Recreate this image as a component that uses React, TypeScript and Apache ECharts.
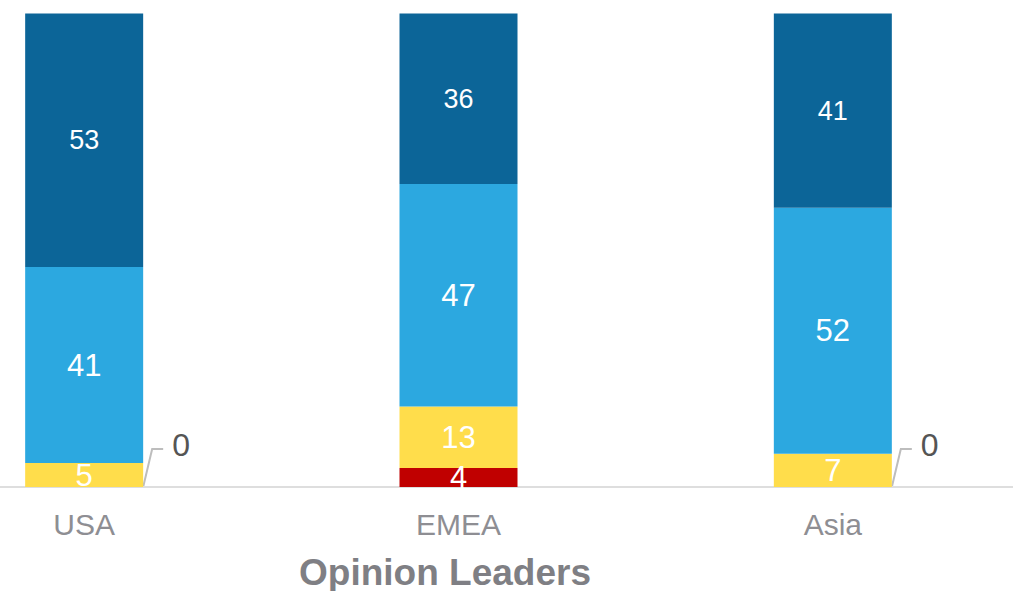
import React, { useEffect, useRef } from "react";
import * as echarts from "echarts";

const categories = ["USA", "EMEA", "Asia"];
const seriesNames = ["Negative", "Neutral", "Positive", "Very positive"];
const redValues = [0, 4, 0];
const yellowValues = [5, 13, 7];
const lightBlueValues = [41, 47, 52];
const darkBlueValues = [53, 36, 41];
const colors = ["#c00000", "#ffdd4b", "#2ca8e0", "#0c6598"];
const labelSizes = [31, 31, 31, 27];
const axisTitle = "Opinion Leaders";

const FONT = "'Liberation Sans', Arial, Helvetica, sans-serif";
const SHIFT = 103;
const BAR_WIDTH = 118;

export default function App() {
  const ref = useRef<HTMLDivElement>(null);
  useEffect(() => {
    if (!ref.current) return;
    document.body.style.overflow = "hidden";
    const chart = echarts.init(ref.current, undefined, { renderer: "svg" });
    const all = [redValues, yellowValues, lightBlueValues, darkBlueValues];
    const totals = categories.map((_, i) => all.reduce((s, arr) => s + arr[i], 0));

    const series = all.map((arr, si) => ({
      name: seriesNames[si],
      type: "bar",
      stack: "total",
      barWidth: BAR_WIDTH,
      itemStyle: { color: colors[si] },
      label: {
        show: true,
        position: "inside",
        color: "#fff",
        fontSize: labelSizes[si],
        fontFamily: FONT,
        formatter: (p: any) => String(arr[p.dataIndex]),
      },
      labelLayout:
        si === 0
          ? (p: any) => {
              if (arr[p.dataIndex] !== 0) return {};
              return {
                x: p.rect.x + p.rect.width + 29,
                y: p.rect.y - 42,
                align: "left",
                verticalAlign: "middle",
                fontSize: 32,
              };
            }
          : undefined,
      data: arr.map((v, i) => {
        const val = (v / totals[i]) * 100;
        if (si === 0 && v === 0) {
          return { value: val, label: { color: "#555", fontSize: 32 } };
        }
        return val;
      }),
    }));

    chart.setOption({
      animation: false,
      grid: { left: 0, right: 0, top: 13.5, bottom: 104 },
      xAxis: {
        type: "category",
        data: categories,
        axisLine: { show: true, lineStyle: { color: "#dedede", width: 2 } },
        axisTick: { show: false },
        axisLabel: { color: "#8e8e93", fontSize: 30, fontFamily: FONT, margin: 22 },
      },
      yAxis: {
        type: "value",
        min: 0,
        max: 100,
        show: false,
      },
      series,
    });

    const base = chart.convertToPixel({ yAxisIndex: 0 }, 0) as number;
    const leaders: any[] = [];
    redValues.forEach((v, i) => {
      if (v !== 0) return;
      const cx = chart.convertToPixel({ xAxisIndex: 0 }, categories[i]) as number;
      const edge = cx + BAR_WIDTH / 2;
      leaders.push({
        type: "polyline",
        silent: true,
        shape: {
          points: [
            [edge, base],
            [edge + 9, base - 38],
            [edge + 20, base - 38],
          ],
        },
        style: { stroke: "#bdbdbd", lineWidth: 2, fill: "none" },
      });
    });

    chart.setOption({
      graphic: [
        {
          type: "text",
          x: 445 + SHIFT,
          y: 572,
          style: {
            text: axisTitle,
            fill: "#7f7f84",
            font: `bold 37px ${FONT}`,
            textAlign: "center",
            textVerticalAlign: "middle",
          },
        },
        ...leaders,
      ],
    });
    return () => chart.dispose();
  }, []);
  return (
    <div
      ref={ref}
      style={{ position: "fixed", left: -SHIFT, top: 0, width: 1123, height: 591, background: "#fff" }}
    />
  );
}
